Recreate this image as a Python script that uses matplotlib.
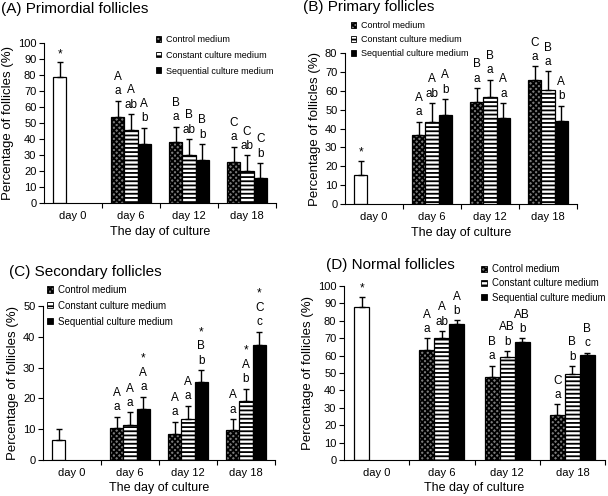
import numpy as np
import matplotlib.pyplot as plt
from matplotlib.patches import Patch

plt.rcParams['font.family'] = ['Liberation Sans', 'DejaVu Sans']
plt.rcParams['hatch.linewidth'] = 1.3

days = ['day 0', 'day 6', 'day 12', 'day 18']
series = ['Control medium', 'Constant culture medium', 'Sequential culture medium']

# (A) primordial follicles
prim_day0, prim_day0_sd = 78.5, 9.5
prim_ctrl = [54.0, 38.2, 25.8]
prim_const = [45.6, 30.3, 20.0]
prim_seq = [37.0, 27.0, 15.5]
prim_ctrl_sd = [10.0, 9.5, 9.5]
prim_const_sd = [10.0, 9.6, 9.8]
prim_seq_sd = [10.0, 9.8, 9.4]
prim_ctrl_lab = ['A\na', 'B\na', 'C\na']
prim_const_lab = ['A\nab', 'B\nab', 'C\nab']
prim_seq_lab = ['A\nb', 'B\nb', 'C\nb']

# (B) primary follicles
pri_day0, pri_day0_sd = 15.5, 7.5
pri_ctrl = [36.3, 53.8, 65.5]
pri_const = [43.4, 56.5, 60.5]
pri_seq = [47.3, 45.5, 44.0]
pri_ctrl_sd = [7.4, 7.6, 7.4]
pri_const_sd = [10.1, 9.3, 9.8]
pri_seq_sd = [8.3, 8.0, 8.0]
pri_ctrl_lab = ['A\na', 'B\na', 'C\na']
pri_const_lab = ['A\nab', 'B\na', 'B\na']
pri_seq_lab = ['A\nb', 'A\na', 'A\nb']

# (C) secondary follicles
sec_day0, sec_day0_sd = 6.4, 3.8
sec_ctrl = [10.3, 8.6, 9.7]
sec_const = [11.5, 13.2, 19.3]
sec_seq = [16.7, 25.4, 37.5]
sec_ctrl_sd = [3.8, 3.8, 3.6]
sec_const_sd = [4.0, 4.4, 3.9]
sec_seq_sd = [3.8, 3.8, 4.1]
sec_ctrl_lab = ['A\na', 'A\na', 'A\na']
sec_const_lab = ['A\na', 'A\na', '*\nA\nb']
sec_seq_lab = ['*\nA\na', '*\nB\nb', '*\nC\nc']

# (D) normal follicles
nor_day0, nor_day0_sd = 88.1, 5.6
nor_ctrl = [63.5, 47.6, 26.1]
nor_const = [69.9, 59.1, 49.5]
nor_seq = [77.9, 67.9, 60.1]
nor_ctrl_sd = [6.4, 6.5, 5.8]
nor_const_sd = [4.2, 3.5, 4.4]
nor_seq_sd = [2.3, 2.0, 1.5]
nor_ctrl_lab = ['A\na', 'B\na', 'C\na']
nor_const_lab = ['A\nab', 'AB\nb', 'B\nb']
nor_seq_lab = ['A\nb', 'AB\nb', 'B\nc']

STYLES = [dict(facecolor='#7a7a7a', hatch='xxxxxx'),
          dict(facecolor='white', hatch='----'),
          dict(facecolor='black', hatch=None)]
W = 0.23


def panel(ax, day0, day0_sd, day0_lab, means, sds, labs, ymax):
    x = np.arange(1, 4)
    ax.bar(0 - W, day0, W, facecolor='white', edgecolor='black', linewidth=0.9)
    ax.errorbar(0 - W, day0, yerr=[[0], [day0_sd]], fmt='none', ecolor='black',
                elinewidth=1, capsize=2.5, capthick=1)
    if day0_lab:
        ax.annotate(day0_lab, (0 - W, day0 + day0_sd), xytext=(0, 1.5), textcoords='offset points',
                    ha='center', va='bottom', fontsize=8.5)
    for i, (m, s, lab, st) in enumerate(zip(means, sds, labs, STYLES)):
        xi = x + (i - 1) * W
        ax.bar(xi, m, W, edgecolor='black', linewidth=0.9, **st)
        ax.errorbar(xi, m, yerr=[np.zeros(3), s], fmt='none', ecolor='black',
                    elinewidth=1, capsize=2.5, capthick=1)
        for xx, top, t in zip(xi, np.array(m) + np.array(s), lab):
            ax.annotate(t, (xx, top), xytext=(0, 2.5), textcoords='offset points',
                        ha='center', va='bottom', fontsize=8.5, linespacing=1.25)
    ax.set_xlim(-0.5, 3.5)
    ax.set_ylim(0, ymax)
    ax.set_yticks(np.arange(0, ymax + 1, 10))
    ax.set_xticks(range(4))
    ax.set_xticklabels(days)
    ax.set_xticks([0.5, 1.5, 2.5, 3.5], minor=True)
    ax.tick_params(axis='x', which='major', length=0, pad=6, labelsize=8)
    ax.tick_params(axis='x', which='minor', length=3.5, direction='out', width=0.8)
    ax.tick_params(axis='y', length=3.5, direction='out', width=0.8, labelsize=8, pad=2)
    for sp in ['top', 'right']:
        ax.spines[sp].set_visible(False)
    for sp in ['left', 'bottom']:
        ax.spines[sp].set_linewidth(0.8)
    ax.set_xlabel('The day of culture', fontsize=9, labelpad=3)
    ax.set_ylabel('Percentage of follicles (%)', fontsize=9.5, labelpad=3)


fig = plt.figure(figsize=(6.08, 4.96), dpi=100)


def fx(px):
    return px / 608


def fy(py):
    return 1 - py / 496


axA = fig.add_axes([fx(44), fy(203), fx(232), 160 / 496])
axB = fig.add_axes([fx(345), fy(204), fx(232), 151 / 496])
axC = fig.add_axes([fx(43), fy(460), fx(232), 154 / 496])
axD = fig.add_axes([fx(344), fy(460), fx(261), 174 / 496])

panel(axA, prim_day0, prim_day0_sd, '*', [prim_ctrl, prim_const, prim_seq],
      [prim_ctrl_sd, prim_const_sd, prim_seq_sd], [prim_ctrl_lab, prim_const_lab, prim_seq_lab], 100)
panel(axB, pri_day0, pri_day0_sd, '*', [pri_ctrl, pri_const, pri_seq],
      [pri_ctrl_sd, pri_const_sd, pri_seq_sd], [pri_ctrl_lab, pri_const_lab, pri_seq_lab], 80)
panel(axC, sec_day0, sec_day0_sd, '', [sec_ctrl, sec_const, sec_seq],
      [sec_ctrl_sd, sec_const_sd, sec_seq_sd], [sec_ctrl_lab, sec_const_lab, sec_seq_lab], 50)
panel(axD, nor_day0, nor_day0_sd, '*', [nor_ctrl, nor_const, nor_seq],
      [nor_ctrl_sd, nor_const_sd, nor_seq_sd], [nor_ctrl_lab, nor_const_lab, nor_seq_lab], 100)

titles = ['(A) Primordial follicles', '(B) Primary follicles',
          '(C) Secondary follicles', '(D) Normal follicles']
for t, (px, py) in zip(titles, [(1, 13), (303, 11), (9, 276), (326, 269)]):
    fig.text(fx(px), fy(py), t, fontsize=11, va='baseline', ha='left')

handles = [Patch(edgecolor='black', linewidth=0.6, **st) for st in STYLES]
for (px, py), fs, ls in zip([(156, 35), (351, 21), (47, 285), (481, 264)],
                            [6.5, 6.5, 7.0, 6.9], [0.75, 0.55, 0.6, 0.45]):
    fig.legend(handles, series, loc='upper left', bbox_to_anchor=(fx(px), fy(py)),
               frameon=False, fontsize=fs, handlelength=0.6, handleheight=0.6,
               handletextpad=0.5, labelspacing=ls, borderpad=0, borderaxespad=0)

fig.savefig('out.png', dpi=100)
